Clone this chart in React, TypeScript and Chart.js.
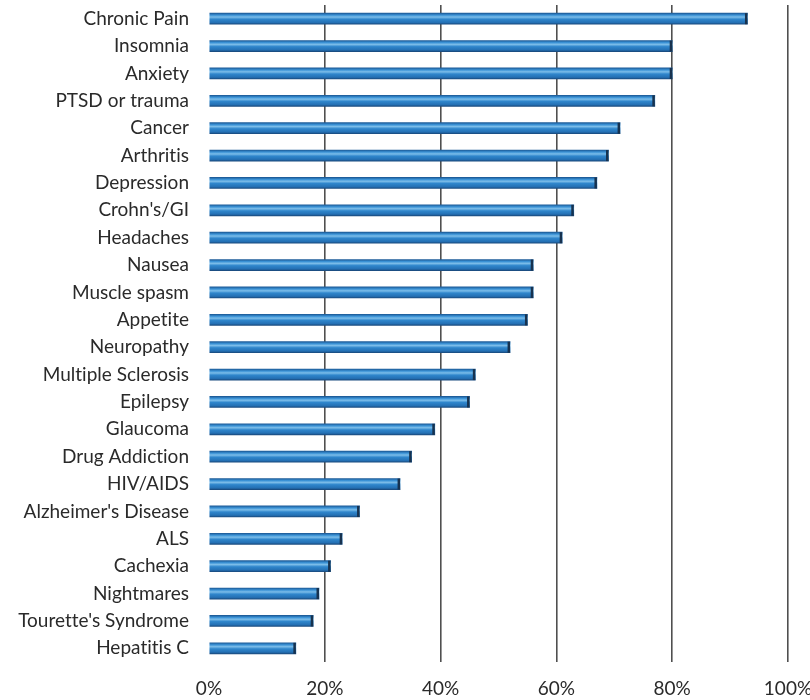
import React, { useEffect, useRef } from "react";
import { Chart, registerables } from "chart.js";

Chart.register(...registerables);

const categories = [
  "Chronic Pain", "Insomnia", "Anxiety", "PTSD or trauma", "Cancer", "Arthritis",
  "Depression", "Crohn's/GI", "Headaches", "Nausea", "Muscle spasm", "Appetite",
  "Neuropathy", "Multiple Sclerosis", "Epilepsy", "Glaucoma", "Drug Addiction",
  "HIV/AIDS", "Alzheimer's Disease", "ALS", "Cachexia", "Nightmares",
  "Tourette's Syndrome", "Hepatitis C",
];
const percentages = [93, 80, 80, 77, 71, 69, 67, 63, 61, 56, 56, 55, 52, 46, 45, 39, 35, 33, 26, 23, 21, 19, 18, 15];
const xTicks = [0, 20, 40, 60, 80, 100];

const BAR_H = 11;

export default function App() {
  const ref = useRef<HTMLCanvasElement>(null);
  useEffect(() => {
    document.body.style.margin = "0";
    const canvas = ref.current!;
    const noLigatures = {
      id: "noLigatures",
      beforeDraw(chart: any) {
        try {
          chart.ctx.letterSpacing = "0.01px";
        } catch (e) {}
      },
    };
    const endCap = {
      id: "endCap",
      afterDatasetsDraw(chart: any) {
        const c = chart.ctx;
        const meta = chart.getDatasetMeta(0);
        c.save();
        meta.data.forEach((el: any) => {
          const h = el.height;
          c.fillStyle = "#17324f";
          c.fillRect(el.x - 2.5, el.y - h / 2, 2.5, h);
        });
        c.restore();
      },
    };
    const chart = new Chart(canvas, {
      type: "bar",
      data: {
        labels: categories,
        datasets: [
          {
            data: percentages,
            barThickness: BAR_H,
            borderWidth: 0,
            backgroundColor: (ctx: any) => {
              const y = ctx.chart.scales?.y;
              if (!y || ctx.dataIndex === undefined) return "#2F80C3";
              const cy = y.getPixelForValue(ctx.dataIndex);
              if (!Number.isFinite(cy)) return "#2F80C3";
              const g = ctx.chart.ctx.createLinearGradient(0, cy - BAR_H / 2, 0, cy + BAR_H / 2);
              g.addColorStop(0, "#1d5c99");
              g.addColorStop(0.18, "#3a92d6");
              g.addColorStop(0.35, "#7cbde9");
              g.addColorStop(0.55, "#2f86cc");
              g.addColorStop(0.85, "#2470b4");
              g.addColorStop(1, "#1a4c80");
              return g;
            },
          },
        ],
      },
      options: {
        indexAxis: "y",
        animation: false,
        responsive: false,
        layout: { padding: { top: 5, right: 22, bottom: 0, left: 0 } },
        plugins: { legend: { display: false }, tooltip: { enabled: false } },
        scales: {
          x: {
            min: 0,
            max: 100,
            afterBuildTicks: (s: any) => {
              s.ticks = xTicks.map((v) => ({ value: v }));
            },
            afterFit: (s: any) => {
              s.height = 38;
              s.paddingLeft = 0;
              s.paddingRight = 0;
            },
            ticks: {
              callback: (v: any) => v + "%",
              color: "#2a2a2a",
              font: { family: "Lato", size: 19 },
              padding: 15,
              maxRotation: 0,
            },
            grid: {
              drawTicks: false,
              color: (c: any) => (c.tick && c.tick.value === 0 ? "rgba(0,0,0,0)" : "#4f4f4f"),
              lineWidth: 1.6,
            },
            border: { display: false },
          },
          y: {
            offset: true,
            afterFit: (s: any) => {
              s.width = 209;
              s.paddingTop = 0;
              s.paddingBottom = 0;
            },
            ticks: {
              color: "#2a2a2a",
              font: { family: "Lato", size: 19 },
              padding: 12,
              autoSkip: false,
            },
            grid: { display: false },
            border: { display: false },
          },
        },
      },
      plugins: [noLigatures, endCap],
    } as any);
    return () => chart.destroy();
  }, []);
  return <canvas ref={ref} width={810} height={700} style={{ display: "block" }} />;
}
